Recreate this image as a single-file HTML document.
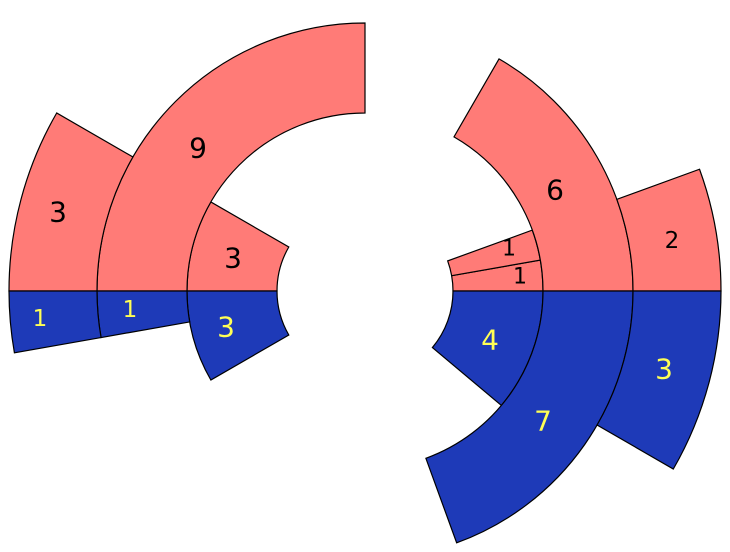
<!DOCTYPE html>
<html><head><meta charset="utf-8"><style>
html,body{margin:0;padding:0;background:#fff;}
svg{display:block;}
text{font-family:"DejaVu Sans","Liberation Sans",sans-serif;text-anchor:middle;dominant-baseline:central;}
.k{fill:#000;} .y{fill:#FFFF55;}
</style></head><body>
<svg id="s" width="730" height="552" viewBox="0 0 730 552" xmlns="http://www.w3.org/2000/svg">
<g id="w"></g>
<text class="k" x="198" y="148" font-size="28">9</text>
<text class="k" x="58" y="212" font-size="28">3</text>
<text class="k" x="233" y="258" font-size="28">3</text>
<text class="y" x="40" y="319" font-size="23">1</text>
<text class="y" x="130" y="310" font-size="23">1</text>
<text class="y" x="226" y="327" font-size="28">3</text>
<text class="k" x="555" y="190" font-size="28">6</text>
<text class="k" x="509" y="249" font-size="22">1</text>
<text class="k" x="520" y="277" font-size="22">1</text>
<text class="k" x="672" y="241" font-size="23">2</text>
<text class="y" x="490" y="340" font-size="28">4</text>
<text class="y" x="543" y="421" font-size="28">7</text>
<text class="y" x="664" y="369" font-size="28">3</text>
</svg>
<script>
var cx=365,cy=291,R="#FF7B77",B="#1E3AB8";
function p(r,a){a=a*Math.PI/180;return [(cx+r*Math.cos(a)).toFixed(2),(cy-r*Math.sin(a)).toFixed(2)];}
function wedge(r0,r1,a0,a1,c){
 var A=p(r1,a0),Bp=p(r1,a1),C=p(r0,a1),D=p(r0,a0);
 var large=Math.abs(a1-a0)>180?1:0, sw=a1>a0?0:1;
 var d="M"+A+" A"+r1+","+r1+" 0 "+large+" "+sw+" "+Bp+" L"+C+" A"+r0+","+r0+" 0 "+large+" "+(1-sw)+" "+D+" Z";
 return '<path d="'+d+'" fill="'+c+'" stroke="#000" stroke-width="1.2"/>';
}
var s="";
var r=[88,178,268,356];
s+=wedge(r[0],r[1],180,150,R);
s+=wedge(r[1],r[2],180,90,R);
s+=wedge(r[2],r[3],180,150,R);
s+=wedge(r[0],r[1],180,210,B);
s+=wedge(r[1],r[2],180,190,B);
s+=wedge(r[2],r[3],180,190,B);
s+=wedge(r[0],r[1],0,10,R);
s+=wedge(r[0],r[1],10,20,R);
s+=wedge(r[1],r[2],0,60,R);
s+=wedge(r[2],r[3],0,20,R);
s+=wedge(r[0],r[1],0,-40,B);
s+=wedge(r[1],r[2],0,-70,B);
s+=wedge(r[2],r[3],0,-30,B);
document.getElementById("w").innerHTML=s;
</script>
</body></html>
